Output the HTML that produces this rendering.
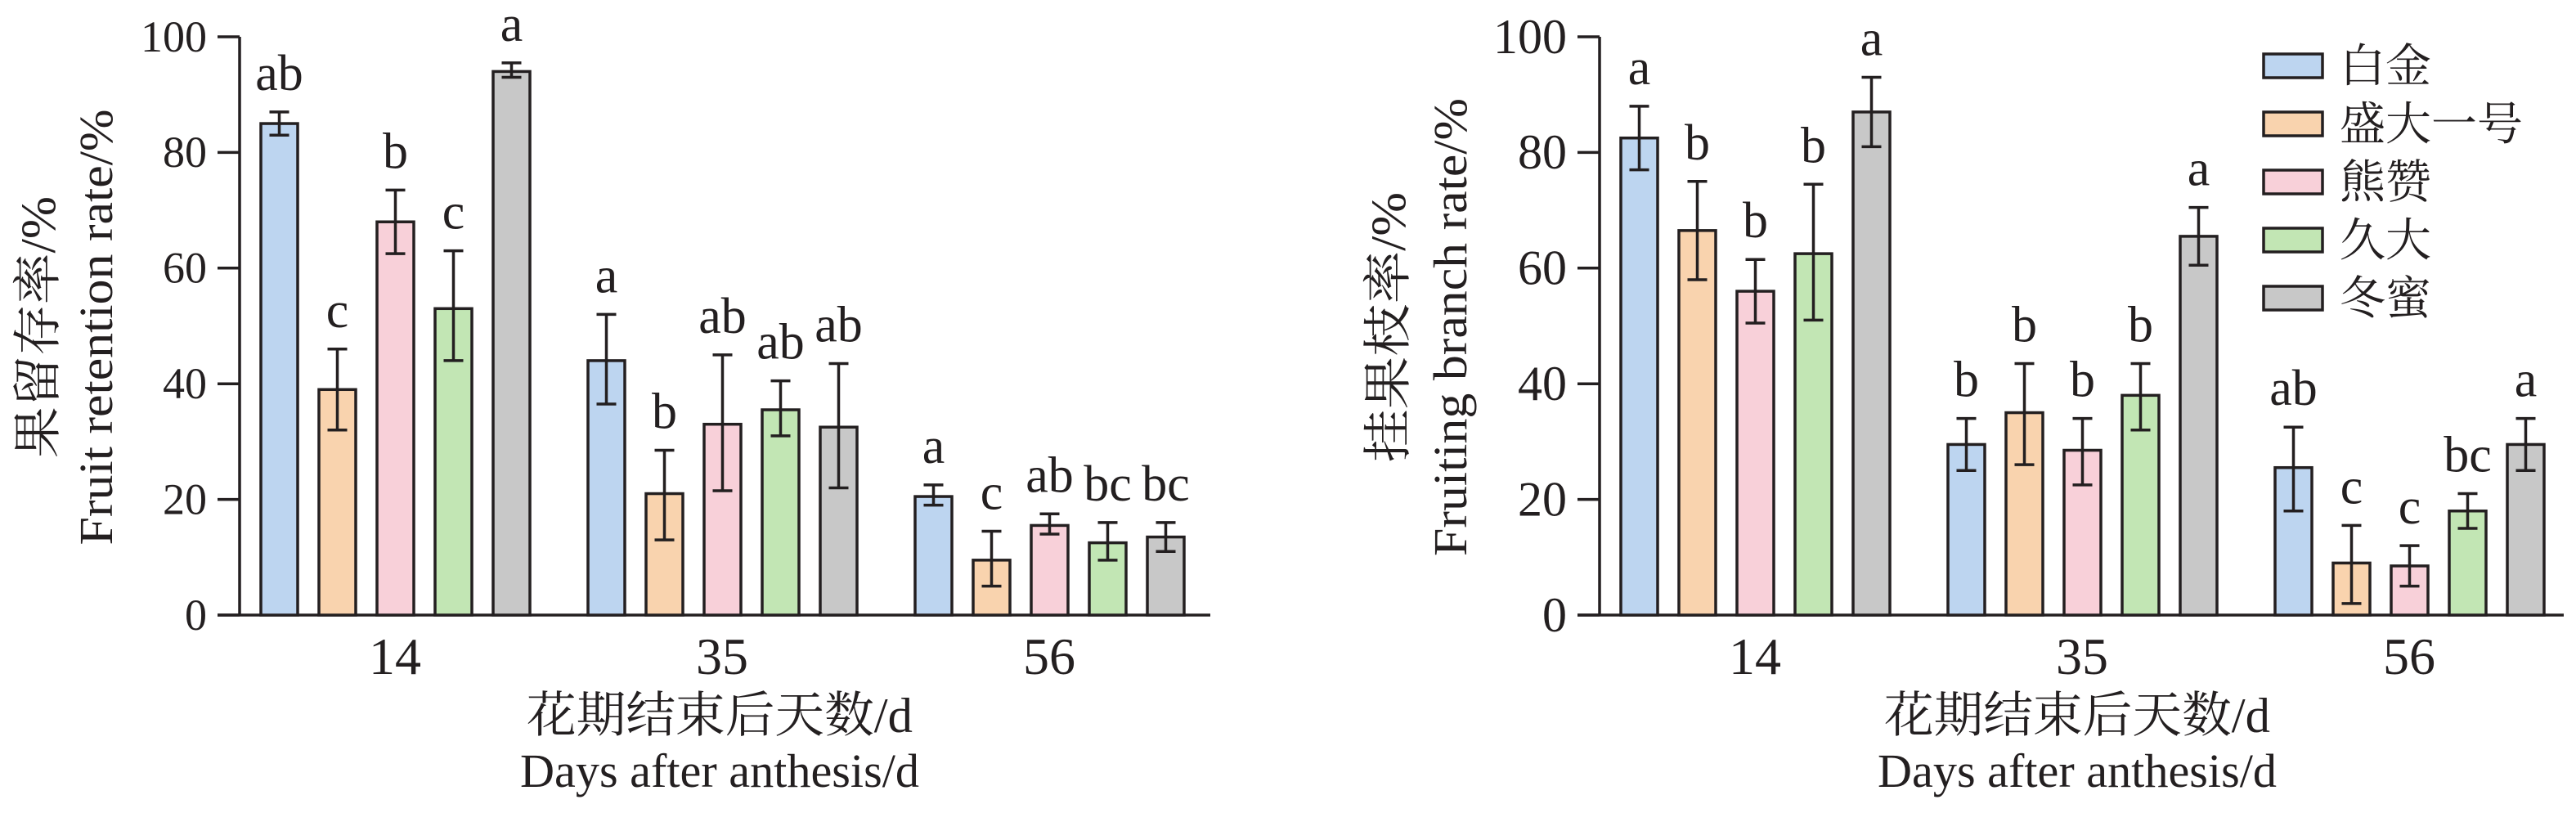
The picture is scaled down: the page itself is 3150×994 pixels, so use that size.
<!DOCTYPE html>
<html><head><meta charset="utf-8"><style>
html,body{margin:0;padding:0;background:#fff;}
svg{display:block;}
text{font-family:"Liberation Serif","Noto Serif CJK SC","Noto Sans CJK SC",serif;fill:#231f20;}
</style></head><body>
<svg id="s" width="3150" height="994" viewBox="0 0 3150 994" xmlns="http://www.w3.org/2000/svg"></svg>
<script>
var s=document.getElementById('s'),h='';
var cols=['#bdd5f0','#f9d3ae','#f8d0d9','#c2e6b4','#c8c8c8'];
var Y0=752,Y100=45;function Y(v){return Y0-(Y0-Y100)*v/100;}
function chart(ax,axEnd,b0,data,labs,t1,t2,cx,t1len,t2len,tfs,cxo,exo){
  h+='<line x1="'+ax+'" y1="'+Y100+'" x2="'+ax+'" y2="'+Y0+'" stroke="#231f20" stroke-width="3.5"/>';
  h+='<line x1="'+(ax-27)+'" y1="'+Y0+'" x2="'+axEnd+'" y2="'+Y0+'" stroke="#231f20" stroke-width="3.5"/>';
  for(var t=0;t<=100;t+=20){var y=Y(t);
    h+='<line x1="'+(ax-27)+'" y1="'+y+'" x2="'+ax+'" y2="'+y+'" stroke="#231f20" stroke-width="3.5"/>';
    h+='<text x="'+(ax-40)+'" y="'+(y+tfs*0.33)+'" font-size="'+tfs+'" text-anchor="end">'+t+'</text>';}
  var groups=['14','35','56'];
  for(var g=0;g<3;g++){
    for(var i=0;i<5;i++){var d=data[g][i];var x=b0+g*400+i*71;var w=45;
      var yt=Y(d[0]);
      h+='<rect x="'+x+'" y="'+yt+'" width="'+w+'" height="'+(Y0-yt)+'" fill="'+cols[i]+'" stroke="#231f20" stroke-width="3.5"/>';
      var c=x+w/2,ya=Y(d[1]),yb=Y(d[2]);
      h+='<line x1="'+c+'" y1="'+ya+'" x2="'+c+'" y2="'+yb+'" stroke="#231f20" stroke-width="3.5"/>';
      h+='<line x1="'+(c-12)+'" y1="'+ya+'" x2="'+(c+12)+'" y2="'+ya+'" stroke="#231f20" stroke-width="3.5"/>';
      h+='<line x1="'+(c-12)+'" y1="'+yb+'" x2="'+(c+12)+'" y2="'+yb+'" stroke="#231f20" stroke-width="3.5"/>';
      h+='<text x="'+c+'" y="'+(yb-27)+'" font-size="62" text-anchor="middle">'+labs[g][i]+'</text>';
    }
    h+='<text x="'+(b0+g*400+164)+'" y="'+824+'" font-size="64" text-anchor="middle">'+groups[g]+'</text>';
  }
  h+='<text x="'+cx+'" y="895" font-size="60" text-anchor="middle" textLength="472" lengthAdjust="spacingAndGlyphs">花期结束后天数/d</text>';
  h+='<text x="'+cx+'" y="962" font-size="58" text-anchor="middle" textLength="488" lengthAdjust="spacingAndGlyphs">Days after anthesis/d</text>';
  h+='<text transform="translate('+(ax-cxo)+',400) rotate(-90)" font-size="60" text-anchor="middle" textLength="'+t1len+'" lengthAdjust="spacingAndGlyphs">'+t1+'</text>';
  h+='<text transform="translate('+(ax-exo)+',400) rotate(-90)" font-size="58" text-anchor="middle" textLength="'+t2len+'" lengthAdjust="spacingAndGlyphs">'+t2+'</text>';
}
chart(293,1480,319,
 [[[85,83,87],[39,32,46],[68,62.5,73.5],[53,44,63],[94,93,95.5]],
  [[44,36.5,52],[21,13,28.5],[33,21.5,45],[35.5,31,40.5],[32.5,22,43.5]],
  [[20.5,19,22.5],[9.5,5,14.5],[15.5,14,17.5],[12.5,9.5,16],[13.5,11,16]]],
 [['ab','c','b','c','a'],['a','b','ab','ab','ab'],['a','c','ab','bc','bc']],
 '果留存率/%','Fruit retention rate/%',880,320,533,54,226,156);
chart(1956,3135,1982,
 [[[82.5,77,88],[66.5,58,75],[56,50.5,61.5],[62.5,51,74.5],[87,81,93]],
  [[29.5,25,34],[35,26,43.5],[28.5,22.5,34],[38,32,43.5],[65.5,60.5,70.5]],
  [[25.5,18,32.5],[9,2,15.5],[8.5,5,12],[18,15,21],[29.5,25,34]]],
 [['a','b','b','b','a'],['b','b','b','b','a'],['ab','c','c','bc','a']],
 '挂果枝率/%','Fruiting branch rate/%',2540,330,560,60,238,163);
var L=['白金','盛大一号','熊赞','久大','冬蜜'];
for(var i=0;i<5;i++){var y=66+i*71;
  h+='<rect x="2768" y="'+y+'" width="72" height="29" fill="'+cols[i]+'" stroke="#231f20" stroke-width="3.5"/>';
  h+='<text x="2861" y="'+(y+34)+'" font-size="56">'+L[i]+'</text>';}
s.innerHTML=h;
</script>
</body></html>
